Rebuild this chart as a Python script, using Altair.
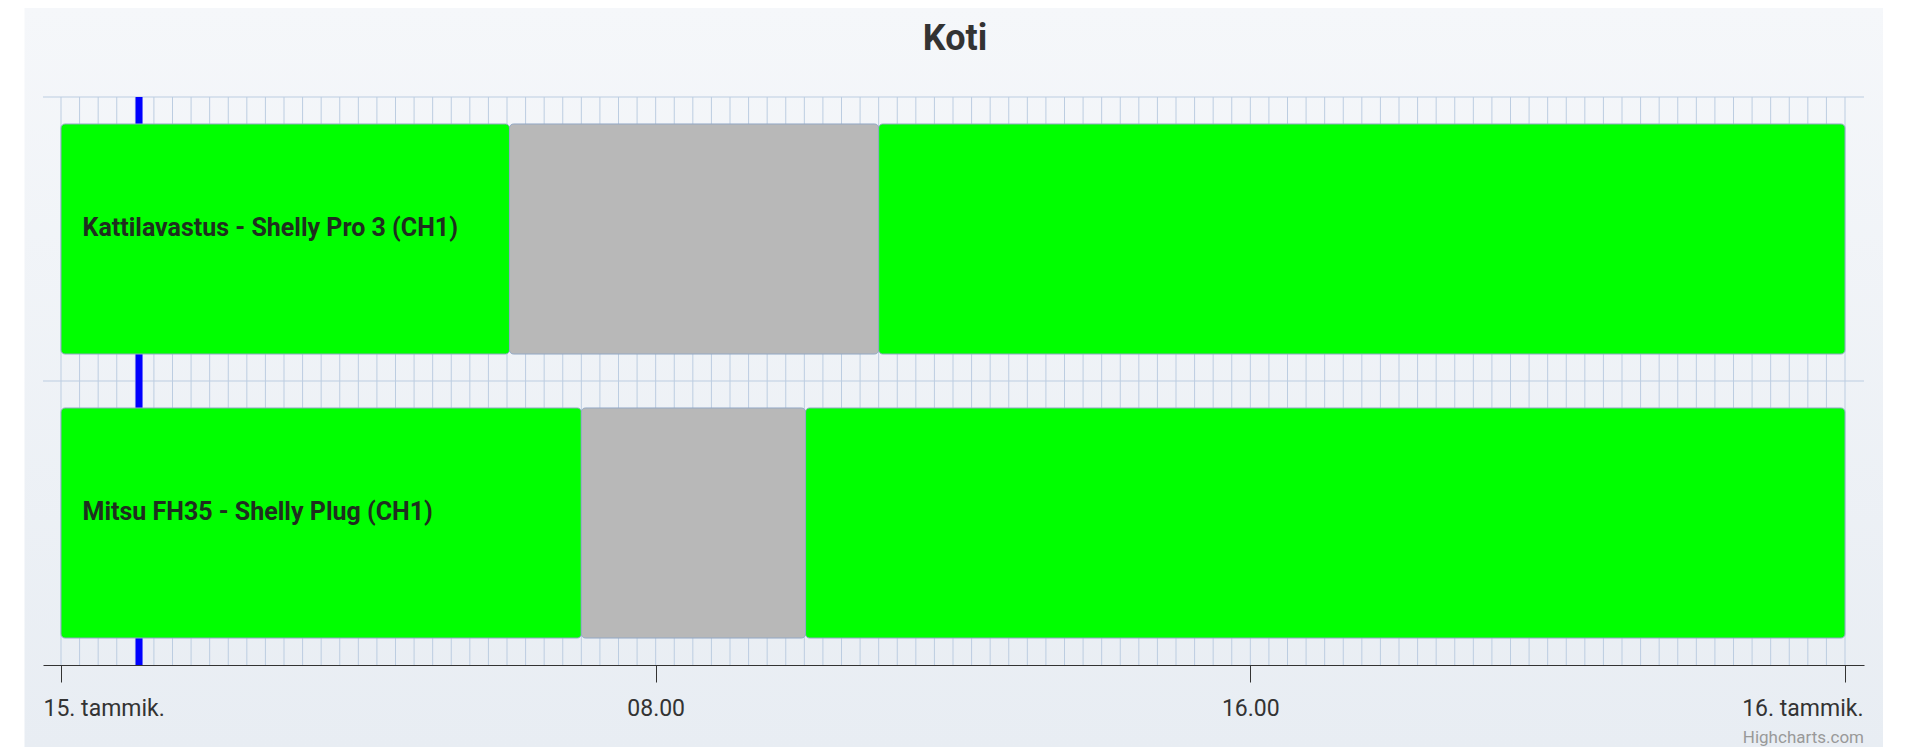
import altair as alt
import pandas as pd

# ---------------- data ----------------
TITLE = "Koti"
CREDITS = "Highcharts.com"
CATEGORIES = ["Kattilavastus - Shelly Pro 3 (CH1)", "Mitsu FH35 - Shelly Plug (CH1)"]

SEG_CATEGORY = [CATEGORIES[0], CATEGORIES[0], CATEGORIES[0],
                CATEGORIES[1], CATEGORIES[1], CATEGORIES[1]]
SEG_START = ["00:00", "06:02", "11:00", "00:00", "07:00", "10:01"]
SEG_END = ["06:02", "11:00", "24:00", "07:00", "10:01", "24:00"]
SEG_STATE = ["päällä", "pois", "päällä", "päällä", "pois", "päällä"]

NOW_MARK = ["01:03"]                      # blue plot line
TICK_HOURS = [0, 8, 16, 24]
TICK_LABELS = ["15. tammik.", "08.00", "16.00", "16. tammik."]
GRID_STEP_MIN = 15                        # minor grid every 15 minutes


def hours(s):
    h, m = s.split(":")
    return int(h) + int(m) / 60.0


segments = pd.DataFrame({
    "category": SEG_CATEGORY,
    "start": [hours(s) for s in SEG_START],
    "end": [hours(s) for s in SEG_END],
    "state": SEG_STATE,
})
labels = segments.groupby("category", sort=False)["start"].min().reset_index()
now_df = pd.DataFrame({"start": [hours(s) for s in NOW_MARK]})
grid_df = pd.DataFrame({"start": [m / 60.0 for m in range(0, 24 * 60 + 1, GRID_STEP_MIN)]})
rows_df = pd.DataFrame({"category": CATEGORIES})
one = pd.DataFrame({"a": [0]})

# ---------------- layout ----------------
W, H = 1821, 568
PX_PER_H = 1784 / 24.0
xscale = alt.Scale(domain=[-18 / PX_PER_H, 24 + 19 / PX_PER_H], nice=False, zero=False)
yscale = alt.Scale(type="band", domain=CATEGORIES, paddingInner=0, paddingOuter=0)
FONT = "Roboto"
GRID_COLOR = "#bccde1"

label_expr = " : ".join(
    f"datum.value == {v} ? '{t}'" for v, t in zip(TICK_HOURS, TICK_LABELS)
) + " : ''"

XAXIS = alt.Axis(
    values=TICK_HOURS, labelExpr=label_expr, grid=False, title=None,
    domainColor="#333333", domainWidth=1, tickColor="#333333", tickWidth=1,
    tickSize=17, labelFont=FONT, labelFontSize=23, labelColor="#333333",
    labelFlush=20, labelFlushOffset=18, labelBaseline="alphabetic",
    labelPadding=33, labelOverlap=False, zindex=1,
)


def X(field):
    return alt.X(f"{field}:Q", scale=xscale, axis=XAXIS, title=None)


bg = alt.Chart(one).mark_rect(
    fill=alt.LinearGradient(
        gradient="linear",
        stops=[alt.GradientStop(color="#f5f7fa", offset=0),
               alt.GradientStop(color="#e8edf3", offset=1)],
        x1=0, x2=0, y1=0, y2=1,
    )
).encode(x=alt.value(-18.5), x2=alt.value(1840), y=alt.value(-89), y2=alt.value(650))

vgrid = alt.Chart(grid_df).mark_rule(color=GRID_COLOR, strokeWidth=1).encode(x=X("start"))

hgrid = alt.Chart(rows_df).mark_rule(color=GRID_COLOR, strokeWidth=1).encode(
    y=alt.Y("category:N", scale=yscale, bandPosition=0, axis=None)
)

now_line = alt.Chart(now_df).mark_rule(color="#0000ff", strokeWidth=7).encode(x=X("start"))

bars = alt.Chart(segments).mark_bar(
    height=alt.RelativeBandSize(0.81),
    cornerRadius=4, stroke="#93a9c6", strokeWidth=1,
).encode(
    x=X("start"),
    x2="end:Q",
    y=alt.Y("category:N", scale=yscale, axis=None),
    color=alt.Color("state:N", scale=alt.Scale(domain=["päällä", "pois"],
                                               range=["#00ff00", "#b8b8b8"]), legend=None),
)

text = alt.Chart(labels).mark_text(
    align="left", baseline="alphabetic", dx=21.5, dy=-3.5,
    font=FONT, fontSize=25, fontWeight="bold", color="#1f2f1f",
).encode(
    x=X("start"),
    y=alt.Y("category:N", scale=yscale, bandPosition=0.5, axis=None),
    text="category:N",
)

title = alt.Chart(one).mark_text(
    text=TITLE, align="center", baseline="alphabetic", font=FONT,
    fontSize=36, fontWeight="bold", color="#333333",
).encode(x=alt.value(912), y=alt.value(-47))

credits = alt.Chart(one).mark_text(
    text=CREDITS, align="right", baseline="alphabetic", font=FONT,
    fontSize=17, color="#999999",
).encode(x=alt.value(W), y=alt.value(646))

chart = alt.layer(bg, vgrid, hgrid, now_line, bars, text, title, credits).properties(
    width=W, height=H,
    autosize=alt.AutoSizeParams(type="none"),
    padding={"left": 35, "top": 89, "right": 48, "bottom": 82},
).configure_view(stroke=None).configure(background="white", font=FONT)

chart.save("out.html", embed_options={"renderer": "svg", "actions": False})
